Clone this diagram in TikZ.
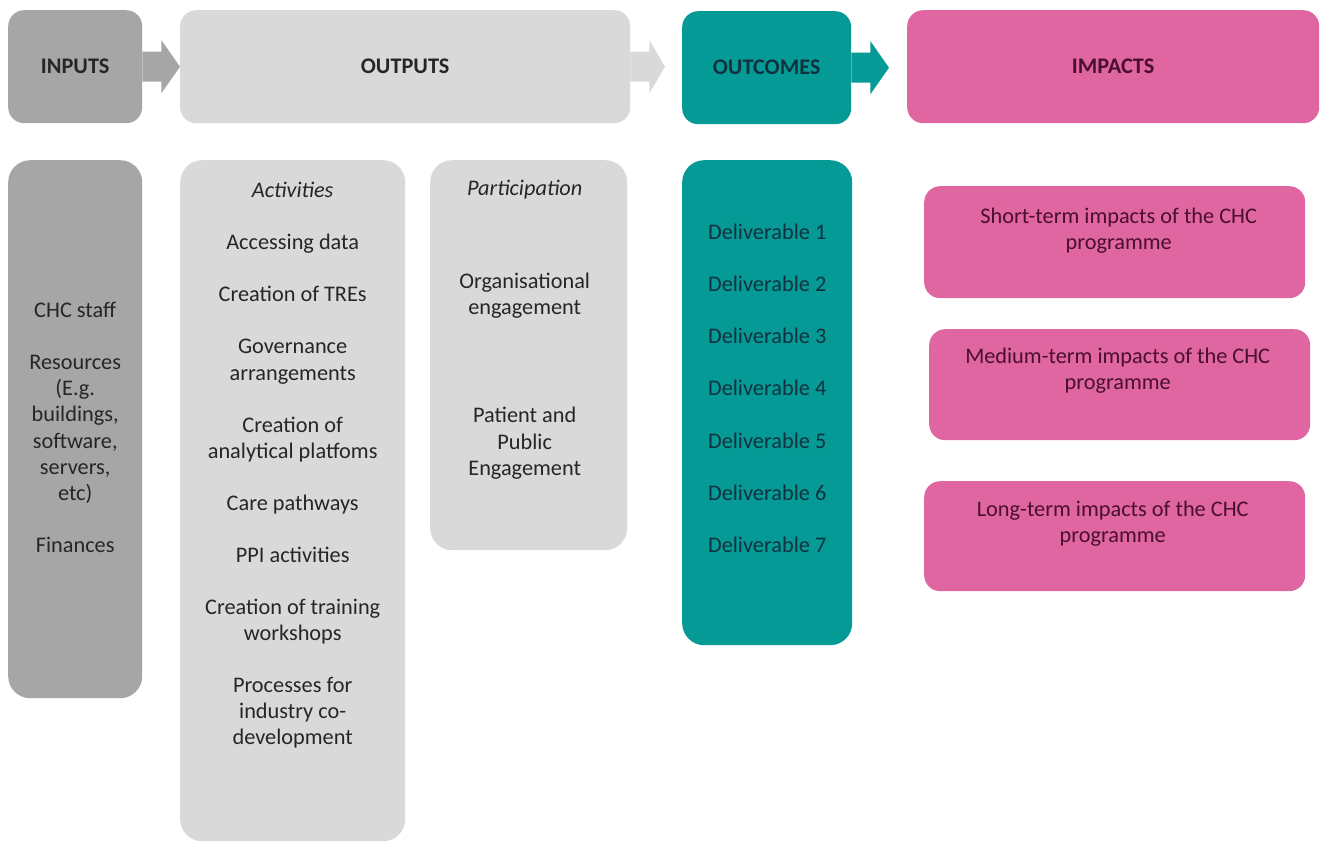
\documentclass[tikz,border=0pt]{standalone}
\usepackage{fontspec}
\setmainfont{Carlito}
\usepackage{tikz}
\usetikzlibrary{calc}
\usetikzlibrary{positioning}
\definecolor{inputgray}{HTML}{A6A6A6}
\definecolor{outputgray}{HTML}{D9D9D9}
\definecolor{outcometeal}{HTML}{069A97}
\definecolor{impactpink}{HTML}{E066A2}
\definecolor{graytext}{HTML}{262626}
\definecolor{tealtext}{HTML}{10323F}
\definecolor{pinktext}{HTML}{4A0F2E}
\tikzset{
  x=1pt, y=-1pt,
  box/.style={rounded corners=16pt, inner sep=0pt, anchor=north west, text=graytext},
  colbox/.style={box, rounded corners=22pt},
  head/.style={font=\fontsize{22.3}{26.1}\selectfont\bfseries},
  body/.style={font=\fontsize{22.3}{26.1}\selectfont, align=center, inner sep=0pt, anchor=north, text=graytext},
}

\begin{document}
\begin{tikzpicture}
  \fill[white] (0,0) rectangle (1320,843);
  \useasboundingbox (0,0) rectangle (1320,843);

  % header row
  \node[box, head, fill=inputgray, minimum width=134, minimum height=113] (inputs) at (8,10) {INPUTS};
  \node[box, head, fill=outputgray, minimum width=450, minimum height=113] (outputs) at (180,10) {OUTPUTS};
  \node[box, head, fill=outcometeal, text=tealtext, minimum width=169, minimum height=113] (outcomes) at (682,11) {OUTCOMES};
  \node[box, head, fill=impactpink, text=pinktext, minimum width=412, minimum height=113] (impacts) at (907,10) {IMPACTS};

  \foreach \a/\b/\c/\g in {inputs/outputs/inputgray/0, outputs/outcomes/outputgray/17, outcomes/impacts/outcometeal/18}
    \fill[\c] ($(\a.east)+(0,-15)$) -- ++(19,0) -- ++(0,-11.5)
      -- ($(\a.east -| \b.west)+(-\g,0)$)
      -- ($(\a.east)+(19,26.5)$) -- ++(0,-11.5) -- ($(\a.east)+(0,15)$) -- cycle;

  % columns
  \node[colbox, fill=inputgray, minimum width=134, minimum height=538] (inputcol) at (8,160) {};
  \node[colbox, fill=outputgray, minimum width=225, minimum height=681] (activitycol) at (180,160) {};
  \node[colbox, fill=outputgray, minimum width=197, minimum height=390] (participcol) at (430,160) {};
  \node[colbox, fill=outcometeal, minimum width=170, minimum height=485] (outcomecol) at (682,160) {};

  \node[body] (inputtext) at (inputcol.north |- 0,302) {CHC staff\\[26pt]Resources\\(E.g.\\buildings,\\software,\\servers,\\etc)\\[26pt]Finances};
  \node[body] (activitytext) at (activitycol.north |- 0,182) {\textit{Activities}\\[26pt]Accessing data\\[26pt]Creation of TREs\\[26pt]Governance\\arrangements\\[26pt]Creation of\\analytical platfoms\\[26pt]Care pathways\\[26pt]PPI activities\\[26pt]Creation of training\\workshops\\[26pt]Processes for\\industry co-\\development};
  \node[body] (participtext) at ($(participcol.north |- 0,180)+(-4,0)$) {\textit{Participation}\\[67pt]Organisational\\engagement\\[82pt]Patient and\\Public\\Engagement};
  \node[body, text=tealtext] (outcometext) at (outcomecol.north |- 0,224) {Deliverable 1\\[26pt]Deliverable 2\\[26pt]Deliverable 3\\[26pt]Deliverable 4\\[26pt]Deliverable 5\\[26pt]Deliverable 6\\[26pt]Deliverable 7};

  % impact boxes
  \node[box, fill=impactpink, minimum width=381, minimum height=112] (shortterm) at (924,186) {};
  \node[box, fill=impactpink, minimum width=381, minimum height=111] (mediumterm) at (929,329) {};
  \node[box, fill=impactpink, minimum width=381, minimum height=110] (longterm) at (924,481) {};
  \node[body, text=pinktext] (shorttext) at ($(shortterm.north)+(4,22)$) {Short-term impacts of the CHC\\programme};
  \node[body, text=pinktext] (mediumtext) at ($(mediumterm.north)+(-2,19)$) {Medium-term impacts of the CHC\\programme};
  \node[body, text=pinktext] (longtext) at ($(longterm.north)+(-2,20)$) {Long-term impacts of the CHC\\programme};
\end{tikzpicture}
\end{document}
